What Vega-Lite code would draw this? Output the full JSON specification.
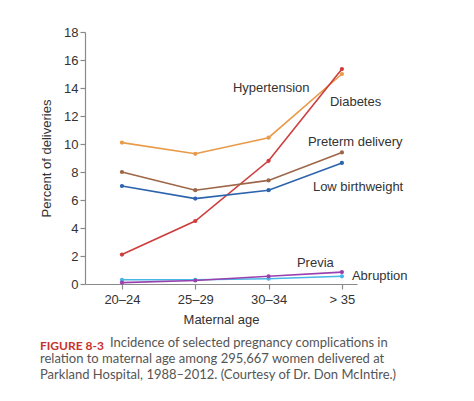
{
  "$schema": "https://vega.github.io/schema/vega-lite/v6.json",
  "width": 272,
  "height": 252,
  "autosize": {"type": "none"},
  "padding": {"left": 85, "top": 32, "right": 117, "bottom": 117},
  "background": "white",
  "config": {
    "view": {"stroke": null},
    "font": "Liberation Sans",
    "axis": {"grid": false, "domainColor": "#8a8a8a", "tickColor": "#8a8a8a", "labelColor": "#333333", "titleColor": "#333333", "labelFont": "Liberation Sans", "titleFont": "Liberation Sans", "labelFontSize": 13, "titleFontSize": 13, "titleFontWeight": "normal", "tickSize": 5, "domainWidth": 1.2, "tickWidth": 1.2}
  },
  "title": {
    "text": "FIGURE 8-3",
    "subtitle": ["\u200b\u00a0\u00a0\u00a0\u00a0\u00a0\u00a0\u00a0\u00a0\u00a0\u00a0\u00a0\u00a0\u00a0\u00a0\u00a0\u00a0\u00a0\u00a0\u00a0\u00a0\u00a0Incidence of selected pregnancy complications in", "relation to maternal age among 295,667 women delivered at", "Parkland Hospital, 1988\u20132012. (Courtesy of Dr. Don McIntire.)"],
    "orient": "bottom",
    "anchor": "start",
    "frame": "group",
    "dx": -45,
    "offset": 15,
    "font": "Lato",
    "fontSize": 12,
    "fontWeight": "bold",
    "color": "#c8322d",
    "subtitleFont": "Lato",
    "subtitleFontSize": 13,
    "subtitleColor": "#555555",
    "subtitleLineHeight": 16,
    "subtitlePadding": -16
  },
  "datasets": {
    "series": [
      {"age": "20\u201324", "value": 10.1, "series": "Hypertension"},
      {"age": "25\u201329", "value": 9.3, "series": "Hypertension"},
      {"age": "30\u201334", "value": 10.45, "series": "Hypertension"},
      {"age": "> 35", "value": 15.0, "series": "Hypertension"},
      {"age": "20\u201324", "value": 2.1, "series": "Diabetes"},
      {"age": "25\u201329", "value": 4.5, "series": "Diabetes"},
      {"age": "30\u201334", "value": 8.8, "series": "Diabetes"},
      {"age": "> 35", "value": 15.35, "series": "Diabetes"},
      {"age": "20\u201324", "value": 8.0, "series": "Preterm delivery"},
      {"age": "25\u201329", "value": 6.7, "series": "Preterm delivery"},
      {"age": "30\u201334", "value": 7.4, "series": "Preterm delivery"},
      {"age": "> 35", "value": 9.4, "series": "Preterm delivery"},
      {"age": "20\u201324", "value": 7.0, "series": "Low birthweight"},
      {"age": "25\u201329", "value": 6.1, "series": "Low birthweight"},
      {"age": "30\u201334", "value": 6.7, "series": "Low birthweight"},
      {"age": "> 35", "value": 8.65, "series": "Low birthweight"},
      {"age": "20\u201324", "value": 0.3, "series": "Abruption"},
      {"age": "25\u201329", "value": 0.3, "series": "Abruption"},
      {"age": "30\u201334", "value": 0.38, "series": "Abruption"},
      {"age": "> 35", "value": 0.55, "series": "Abruption"},
      {"age": "20\u201324", "value": 0.1, "series": "Previa"},
      {"age": "25\u201329", "value": 0.25, "series": "Previa"},
      {"age": "30\u201334", "value": 0.55, "series": "Previa"},
      {"age": "> 35", "value": 0.85, "series": "Previa"}
    ],
    "labels": [
      {"label": "Hypertension", "age": "> 35", "value": 14.0},
      {"label": "Diabetes", "age": "> 35", "value": 13.0},
      {"label": "Preterm delivery", "age": "> 35", "value": 10.14},
      {"label": "Low birthweight", "age": "> 35", "value": 6.95},
      {"label": "Previa", "age": "> 35", "value": 1.5},
      {"label": "Abruption", "age": "> 35", "value": 0.57}
    ]
  },
  "encoding": {
    "x": {
      "field": "age", "type": "ordinal",
      "sort": ["20\u201324", "25\u201329", "30\u201334", "> 35"],
      "scale": {"type": "point", "padding": 0.355, "align": 0.71},
      "axis": {"title": "Maternal age", "labelAngle": 0, "labelPadding": 4, "titlePadding": 7}
    },
    "y": {
      "field": "value", "type": "quantitative",
      "scale": {"domain": [0, 18]},
      "axis": {"title": "Percent of deliveries", "values": [0, 2, 4, 6, 8, 10, 12, 14, 16, 18], "labelPadding": 2, "titlePadding": 10}
    }
  },
  "layer": [
    {
      "data": {"name": "series"},
      "mark": {"type": "line", "strokeWidth": 1.6, "point": {"filled": true, "size": 18}},
      "encoding": {
        "color": {
          "field": "series", "type": "nominal",
          "scale": {
            "domain": ["Hypertension", "Preterm delivery", "Low birthweight", "Abruption", "Previa", "Diabetes"],
            "range": ["#e99a48", "#9d6648", "#2c63ad", "#48b6e6", "#9a40ae", "#cf3c3c"]
          },
          "legend": null
        },
        "order": {"field": "series"}
      }
    },
    {
      "data": {"name": "labels"},
      "transform": [{"filter": "datum.label === 'Hypertension'"}],
      "mark": {"type": "text", "align": "left", "baseline": "middle", "dx": -109, "fontSize": 13, "color": "#333333"},
      "encoding": {"text": {"field": "label"}}
    },
    {
      "data": {"name": "labels"},
      "transform": [{"filter": "datum.label === 'Diabetes'"}],
      "mark": {"type": "text", "align": "left", "baseline": "middle", "dx": -12, "fontSize": 13, "color": "#333333"},
      "encoding": {"text": {"field": "label"}}
    },
    {
      "data": {"name": "labels"},
      "transform": [{"filter": "datum.label === 'Preterm delivery'"}],
      "mark": {"type": "text", "align": "left", "baseline": "middle", "dx": -34, "fontSize": 13, "color": "#333333"},
      "encoding": {"text": {"field": "label"}}
    },
    {
      "data": {"name": "labels"},
      "transform": [{"filter": "datum.label === 'Low birthweight'"}],
      "mark": {"type": "text", "align": "left", "baseline": "middle", "dx": -29, "fontSize": 13, "color": "#333333"},
      "encoding": {"text": {"field": "label"}}
    },
    {
      "data": {"name": "labels"},
      "transform": [{"filter": "datum.label === 'Previa'"}],
      "mark": {"type": "text", "align": "left", "baseline": "middle", "dx": -45, "fontSize": 13, "color": "#333333"},
      "encoding": {"text": {"field": "label"}}
    },
    {
      "data": {"name": "labels"},
      "transform": [{"filter": "datum.label === 'Abruption'"}],
      "mark": {"type": "text", "align": "left", "baseline": "middle", "dx": 10, "fontSize": 13, "color": "#333333"},
      "encoding": {"text": {"field": "label"}}
    }
  ]
}
